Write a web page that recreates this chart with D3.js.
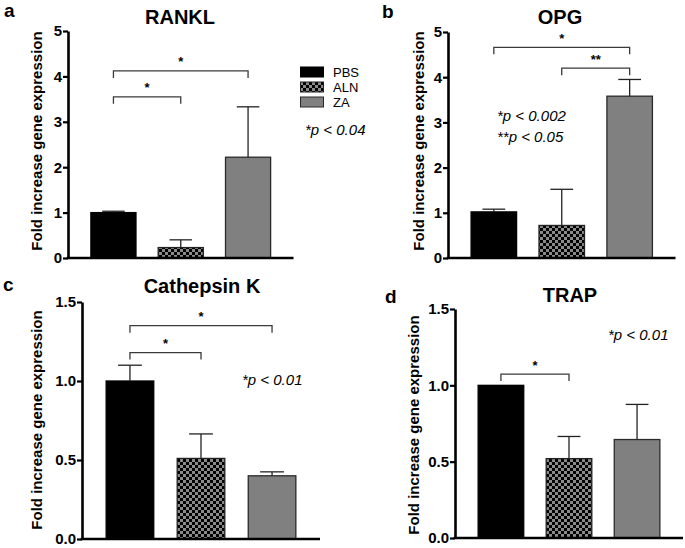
<!DOCTYPE html>
<html>
<head>
<meta charset="utf-8">
<script src="https://cdn.jsdelivr.net/npm/d3@7"></script>
<style>
  body { margin: 0; background: #fff; }
  svg { display: block; font-family: "Liberation Sans", Arial, Helvetica, sans-serif; }
</style>
</head>
<body>
<div id="chart"></div>
<script>
const WIDTH = 685;
const HEIGHT = 548;

// grupos y valores (media y error hacia arriba)
const groups = ["PBS", "ALN", "ZA"];

const ranklMean = [1.00, 0.23, 2.22];
const ranklErr = [0.03, 0.17, 1.11];

const opgMean = [1.02, 0.72, 3.58];
const opgErr = [0.06, 0.80, 0.37];

const ctskMean = [1.00, 0.51, 0.40];
const ctskErr = [0.10, 0.155, 0.025];

const trapMean = [1.00, 0.52, 0.645];
const trapErr = [0.0, 0.145, 0.23];

const ticks5 = [0, 1, 2, 3, 4, 5];
const ticks15 = [0, 0.5, 1.0, 1.5];

// comparaciones: [desde, hasta, altura, etiqueta]
const ranklSig = [[0, 1, 3.55, "*"], [0, 2, 4.12, "*"]];
const opgSig = [[0, 2, 4.66, "*"], [1, 2, 4.20, "**"]];
const ctskSig = [[0, 1, 1.18, "*"], [0, 2, 1.35, "*"]];
const trapSig = [[0, 1, 1.074, "*"]];

const FONT_BOLD = "bold";

const svg = d3.select("#chart").append("svg")
    .attr("width", WIDTH)
    .attr("height", HEIGHT);

// patron de cuadros para ALN
const defs = svg.append("defs");
const pat = defs.append("pattern")
    .attr("id", "checker")
    .attr("patternUnits", "userSpaceOnUse")
    .attr("width", 6)
    .attr("height", 6);
pat.append("rect").attr("width", 6).attr("height", 6).attr("fill", "#8a8a8a");
pat.append("rect").attr("width", 3).attr("height", 3).attr("fill", "#000");
pat.append("rect").attr("x", 3).attr("y", 3).attr("width", 3).attr("height", 3).attr("fill", "#000");

const fills = {PBS: "#000", ALN: "url(#checker)", ZA: "#808080"};
const strokes = {PBS: "#000", ALN: "#222", ZA: "#2a2a2a"};

const panels = [
    {letter: "a", lx: 4, ly: 17, title: "RANKL", tx: 180, ty: 24,
     x0: 68, x1: 293.5, yTop: 31, yBase: 258, max: 5, ticks: ticks5, fmt: d3.format("d"),
     labelX: 42, labelY: 141, mean: ranklMean, err: ranklErr, sig: ranklSig, notes: []},
    {letter: "b", lx: 382, ly: 18, title: "OPG", tx: 560, ty: 24,
     x0: 448, x1: 675.5, yTop: 32, yBase: 258, max: 5, ticks: ticks5, fmt: d3.format("d"),
     labelX: 424, labelY: 141, mean: opgMean, err: opgErr, sig: opgSig,
     notes: [["*p < 0.002", 497, 121], ["**p < 0.05", 497, 142]]},
    {letter: "c", lx: 3, ly: 291, title: "Cathepsin K", tx: 202, ty: 293,
     x0: 82, x1: 320, yTop: 302, yBase: 539, max: 1.5, ticks: ticks15, fmt: d3.format(".1f"),
     labelX: 42, labelY: 420, mean: ctskMean, err: ctskErr, sig: ctskSig,
     notes: [["*p < 0.01", 242, 385]]},
    {letter: "d", lx: 385, ly: 303, title: "TRAP", tx: 570, ty: 302,
     x0: 455, x1: 683, yTop: 309, yBase: 538, max: 1.5, ticks: ticks15, fmt: d3.format(".1f"),
     labelX: 419, labelY: 425, mean: trapMean, err: trapErr, sig: trapSig,
     notes: [["*p < 0.01", 608, 340]]}
];

function drawPanel(p) {
    const g = svg.append("g");

    const x = d3.scaleBand()
        .domain(groups)
        .range([p.x0, p.x1])
        .paddingInner(0.33)
        .paddingOuter(0.34);

    const y = d3.scaleLinear()
        .domain([0, p.max])
        .range([p.yBase, p.yTop]);

    const rows = groups.map((k, i) => ({key: k, mean: p.mean[i], err: p.err[i]}));

    // barras
    g.selectAll("rect.bar")
        .data(rows)
        .join("rect")
        .attr("class", "bar")
        .attr("x", d => x(d.key))
        .attr("y", d => y(d.mean))
        .attr("width", x.bandwidth())
        .attr("height", d => y(0) - y(d.mean))
        .attr("fill", d => fills[d.key])
        .attr("stroke", d => strokes[d.key])
        .attr("stroke-width", 1.3);

    // barras de error (solo hacia arriba)
    const eb = g.selectAll("g.err")
        .data(rows.filter(d => d.err > 0))
        .join("g")
        .attr("class", "err")
        .attr("stroke", "#222")
        .attr("stroke-width", 1.3);
    eb.append("line")
        .attr("x1", d => x(d.key) + x.bandwidth() / 2)
        .attr("x2", d => x(d.key) + x.bandwidth() / 2)
        .attr("y1", d => y(d.mean))
        .attr("y2", d => y(d.mean + d.err));
    eb.append("line")
        .attr("x1", d => x(d.key) + x.bandwidth() / 4)
        .attr("x2", d => x(d.key) + x.bandwidth() * 3 / 4)
        .attr("y1", d => y(d.mean + d.err))
        .attr("y2", d => y(d.mean + d.err));

    // eje y
    const axis = g.append("g")
        .attr("transform", `translate(${p.x0},0)`)
        .call(d3.axisLeft(y).tickValues(p.ticks).tickFormat(p.fmt).tickSize(5).tickSizeOuter(0).tickPadding(1));
    axis.select(".domain").attr("stroke", "#000").attr("stroke-width", 2.6);
    axis.selectAll(".tick line").attr("stroke", "#000").attr("stroke-width", 2.2);
    axis.selectAll(".tick text")
        .attr("font-family", "Liberation Sans, Arial, sans-serif")
        .attr("font-size", 15)
        .attr("font-weight", FONT_BOLD)
        .attr("fill", "#000");

    // eje x (linea base)
    g.append("line")
        .attr("x1", p.x0 - 1.3)
        .attr("x2", p.x1)
        .attr("y1", y(0))
        .attr("y2", y(0))
        .attr("stroke", "#000")
        .attr("stroke-width", 2.6);

    // etiqueta eje y
    g.append("text")
        .attr("transform", `translate(${p.labelX},${p.labelY}) rotate(-90)`)
        .attr("text-anchor", "middle")
        .attr("font-size", 15)
        .attr("font-weight", FONT_BOLD)
        .text("Fold increase gene expression");

    // titulo y letra
    g.append("text")
        .attr("x", p.tx)
        .attr("y", p.ty)
        .attr("text-anchor", "middle")
        .attr("font-size", 20)
        .attr("font-weight", FONT_BOLD)
        .text(p.title);
    g.append("text")
        .attr("x", p.lx)
        .attr("y", p.ly)
        .attr("font-size", 19)
        .attr("font-weight", FONT_BOLD)
        .text(p.letter);

    // corchetes de significancia
    const cx = k => x(k) + x.bandwidth() / 2;
    p.sig.forEach(s => {
        const xa = cx(groups[s[0]]);
        const xb = cx(groups[s[1]]);
        const yy = y(s[2]);
        g.append("path")
            .attr("d", `M${xa},${yy + 7}V${yy}H${xb}V${yy + 7}`)
            .attr("fill", "none")
            .attr("stroke", "#3a3a3a")
            .attr("stroke-width", 1.3);
        g.append("text")
            .attr("x", (xa + xb) / 2)
            .attr("y", yy - 4.5)
            .attr("text-anchor", "middle")
            .attr("font-size", 13)
            .attr("font-weight", FONT_BOLD)
            .text(s[3]);
    });

    // notas de p
    p.notes.forEach(n => {
        g.append("text")
            .attr("x", n[1])
            .attr("y", n[2])
            .attr("font-size", 15)
            .attr("font-style", "italic")
            .text(n[0]);
    });
}

panels.forEach(drawPanel);

// leyenda
const legend = svg.append("g").attr("transform", "translate(300,67)");
legend.selectAll("rect")
    .data(groups)
    .join("rect")
    .attr("x", 0.5)
    .attr("y", (d, i) => i * 15)
    .attr("width", 23)
    .attr("height", 10)
    .attr("fill", d => fills[d])
    .attr("stroke", d => strokes[d])
    .attr("stroke-width", 1);
legend.selectAll("text.lbl")
    .data(groups)
    .join("text")
    .attr("class", "lbl")
    .attr("x", 33)
    .attr("y", (d, i) => i * 15 + 9.5)
    .attr("font-size", 13)
    .text(d => d);
legend.append("text")
    .attr("x", 5)
    .attr("y", 68)
    .attr("font-size", 15)
    .attr("font-style", "italic")
    .text("*p < 0.04");
</script>
</body>
</html>
